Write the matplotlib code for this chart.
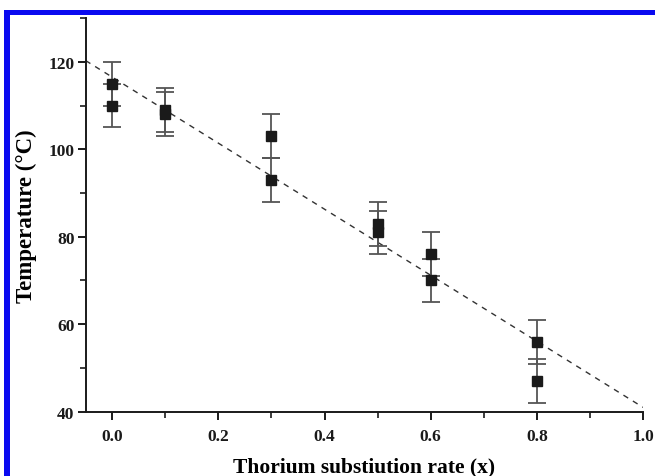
import matplotlib
matplotlib.use('Agg')
import matplotlib.pyplot as plt
import matplotlib.ticker as mticker
from matplotlib.patches import Rectangle

# ── Measured transition temperatures ─────────────────────────────────────────
x_rate = [0.0, 0.0, 0.1, 0.1, 0.3, 0.3, 0.5, 0.5, 0.6, 0.6, 0.8, 0.8]
temp_c = [115, 110, 109, 108, 103, 93, 83, 81, 76, 70, 56, 47]
temp_err = [5, 5, 5, 5, 5, 5, 5, 5, 5, 5, 5, 5]

# Linear fit through the data
fit_intercept = 116.5
fit_slope = -75.5
fit_x = [-0.05, 1.0]

x_ticks = [0.0, 0.2, 0.4, 0.6, 0.8, 1.0]
y_ticks = [40, 60, 80, 100, 120]

plt.rcParams['font.family'] = ['Liberation Serif', 'DejaVu Serif']
plt.rcParams['font.weight'] = 'bold'

fig = plt.figure(figsize=(6.55, 4.77), dpi=100)
ax = fig.add_axes([0.1308, 0.1348, 0.8509, 0.8252])

# blue frame along the top and left edges
W, H = 655, 477
fig.add_artist(Rectangle((4 / W, 1 - 16 / H), 1 - 4 / W, 5 / H,
                         transform=fig.transFigure, color='#0a0af0', lw=0))
fig.add_artist(Rectangle((4 / W, 0), 6 / W, 1 - 11 / H,
                         transform=fig.transFigure, color='#0a0af0', lw=0))

fit_y = [fit_intercept + fit_slope * v for v in fit_x]
ax.plot(fit_x, fit_y, ls=(0, (4, 4)), color='#333333', lw=1.0, zorder=1)

ax.errorbar(x_rate, temp_c, yerr=temp_err, fmt='s', color='#1a1a1a',
            ms=6.5, ecolor='#555555', elinewidth=1.3, capsize=6.5,
            capthick=1.3, zorder=3)

ax.set_xlim(-0.05, 1.0)
ax.set_ylim(40, 130)
ax.set_xticks(x_ticks)
ax.set_yticks(y_ticks)
ax.xaxis.set_major_formatter(mticker.FormatStrFormatter('%.1f'))
ax.xaxis.set_minor_locator(mticker.MultipleLocator(0.1))
ax.yaxis.set_minor_locator(mticker.MultipleLocator(10))

for side in ('top', 'right'):
    ax.spines[side].set_visible(False)
for side in ('left', 'bottom'):
    ax.spines[side].set_linewidth(1.4)
    ax.spines[side].set_color('#1a1a1a')

ax.tick_params(which='major', direction='out', length=6, width=1.4,
               labelsize=12.5, pad=2, colors='#1a1a1a')
ax.tick_params(which='minor', direction='out', length=4, width=1.2,
               colors='#1a1a1a')
ax.tick_params(axis='x', which='major', pad=6)

ax.set_xlabel('Thorium substiution rate (x)', fontsize=15.5, fontweight='bold',
              labelpad=9)
ax.set_ylabel('Temperature (°C)', fontsize=16.5, fontweight='bold', labelpad=8)

fig.savefig('out.png', dpi=100)
